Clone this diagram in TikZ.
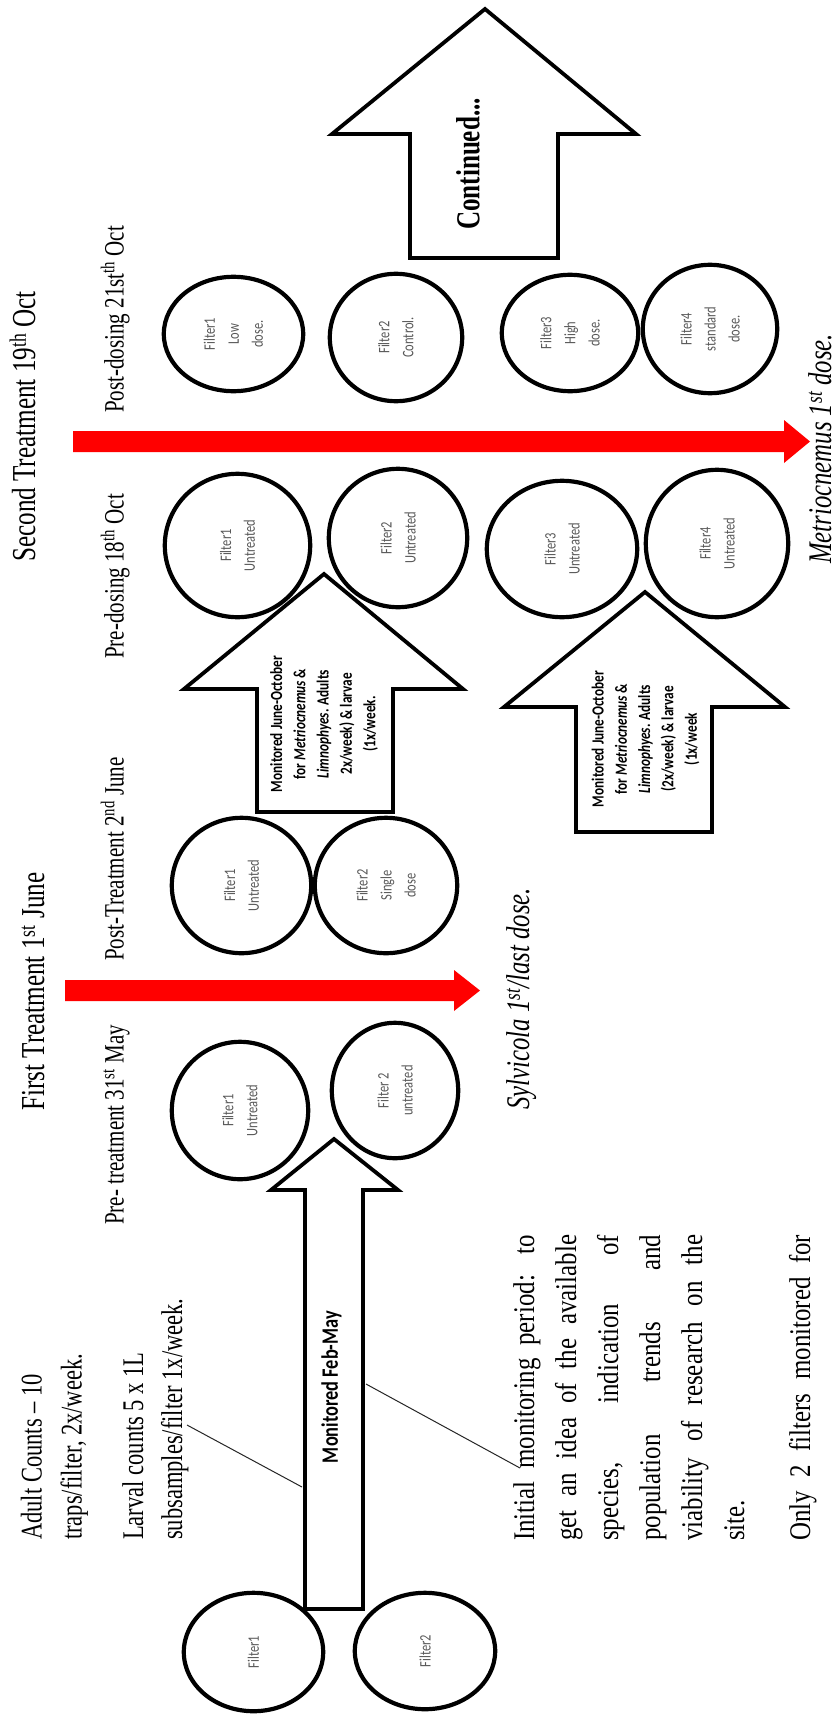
\documentclass[tikz,border=0pt]{standalone}
\usepackage{fontspec}
\setmainfont{Liberation Serif}[FakeStretch=0.75]
\newfontfamily\parafont{Liberation Serif}[FakeStretch=0.83]
\newfontfamily\calib{Carlito}[FakeStretch=0.78]
\usetikzlibrary{shapes.geometric}
\definecolor{dosered}{RGB}{255,0,0}
\definecolor{labgray}{RGB}{89,89,89}

\begin{document}
\begin{tikzpicture}[x=1pt,y=-1pt,
  hd/.style={rotate=90,anchor=base west,inner sep=0pt,font=\fontsize{33.5}{40}\selectfont},
  sub/.style={rotate=90,anchor=base west,inner sep=0pt,font=\fontsize{28}{34}\selectfont},
  body/.style={rotate=90,anchor=base west,inner sep=0pt,font=\fontsize{30}{42}\selectfont},
  para/.style={rotate=90,anchor=base west,inner sep=0pt,font=\parafont\fontsize{30}{42}\selectfont},
  species/.style={rotate=90,anchor=base west,inner sep=0pt,font=\itshape\fontsize{33}{40}\selectfont},
  filt/.style={ellipse,draw,line width=4.2pt,rotate=90,inner sep=0pt,align=center,
    text=labgray,font=\calib\fontsize{16}{24}\selectfont},
  blockarrow/.style={draw,fill=white,line width=3.8pt,line join=miter},
  arrowtext/.style={rotate=90,align=center,inner sep=0pt,
    font=\calib\bfseries\fontsize{17}{23.3}\selectfont},
  dosearrow/.style={fill=dosered},
  leader/.style={line width=1pt,black!85}
]
\path[use as bounding box,fill=white] (0,0) rectangle (835,1718);

% ---- block arrows (monitoring periods) ----
\draw[blockarrow] (305,1609) -- (305,1190) -- (271,1190) -- (334,1139)
  -- (398,1190) -- (363,1190) -- (363,1609) -- cycle;
\draw[blockarrow] (257,812) -- (257,689) -- (184,689) -- (324,574)
  -- (463,689) -- (393,689) -- (393,812) -- cycle;
\draw[blockarrow] (576,832) -- (576,707) -- (504,707) -- (645,592)
  -- (785,707) -- (712,707) -- (712,832) -- cycle;
\draw[blockarrow] (410,258) -- (410,134) -- (332,134) -- (485,9)
  -- (636,134) -- (558,134) -- (558,258) -- cycle;

\node[arrowtext,font=\calib\bfseries\fontsize{23.5}{28}\selectfont] (febmay) at (331.5,1387) {Monitored Feb-May};
\node[arrowtext] (junoct1) at (324,724) {Monitored June-October\\for \textit{Metriocnemus} \&\\\textit{Limnophyes}. Adults\\2x/week) \& larvae\\(1x/week.};
\node[arrowtext] (junoct2) at (645.5,739) {Monitored June-October\\for \textit{Metriocnemus} \&\\\textit{Limnophyes}. Adults\\(2x/week) \& larvae\\(1x/week};
\node[rotate=90,inner sep=0pt,font=\bfseries\fontsize{33.5}{40}\selectfont] (cont) at (468,164) {Continued...};

% ---- filters ----
\node[filt,minimum width=118.4pt,minimum height=139.4pt] (bF1) at (253.5,1652) {Filter1};
\node[filt,minimum width=116.4pt,minimum height=140.4pt] (bF2) at (425,1651) {Filter2};
\node[filt,minimum width=137.4pt,minimum height=136.4pt] (pF1) at (240,1110.5) {Filter1\\Untreated};
\node[filt,minimum width=135.4pt,minimum height=126.4pt] (pF2) at (395,1090.5) {Filter 2\\untreated};
\node[filt,minimum width=135.4pt,minimum height=139.4pt] (qF1) at (241.5,885.5) {Filter1\\Untreated};
\node[filt,minimum width=135.4pt,minimum height=142.4pt] (qF2) at (386,885.5) {Filter2\\Single\\dose};
\node[filt,minimum width=143.4pt,minimum height=145.4pt] (rF1) at (237.5,545.5) {Filter1\\Untreated};
\node[filt,minimum width=138.4pt,minimum height=138.4pt] (rF2) at (398,538) {Filter2\\Untreated};
\node[filt,minimum width=136.4pt,minimum height=150.4pt] (rF3) at (562,549) {Filter3\\Untreated};
\node[filt,minimum width=147.4pt,minimum height=142.4pt] (rF4) at (717,543.5) {Filter4\\Untreated};
\node[filt,minimum width=114.4pt,minimum height=139.4pt] (sF1) at (233.5,334) {Filter1\\Low\\dose.};
\node[filt,minimum width=127.4pt,minimum height=132.4pt] (sF2) at (396,337.5) {Filter2\\Control.};
\node[filt,minimum width=116.4pt,minimum height=136.4pt] (sF3) at (570,333) {Filter3\\High\\dose.};
\node[filt,minimum width=128.4pt,minimum height=134.4pt] (sF4) at (710,329) {Filter4\\standard\\dose.};

% ---- treatment arrows ----
\fill[dosearrow] (65,980) -- (454,980) -- (454,970) -- (480,990.5) -- (454,1011)
  -- (454,1001) -- (65,1001) -- cycle;
\fill[dosearrow] (73,431) -- (784,431) -- (784,420) -- (810,441.5) -- (784,463)
  -- (784,452) -- (73,452) -- cycle;

% ---- headings ----
\node[hd] (second) at (35,562) {Second Treatment 19\textsuperscript{th} Oct};
\node[hd] (first) at (44,1111) {First Treatment 1\textsuperscript{st} June};
\node[sub] (preT) at (123.5,1225) {Pre- treatment 31\textsuperscript{st} May};
\node[sub] (postT) at (123.5,961) {Post-Treatment 2\textsuperscript{nd} June};
\node[sub] (preD) at (123.5,659) {Pre-dosing 18\textsuperscript{th} Oct};
\node[sub] (postD) at (123.5,413) {Post-dosing 21st\textsuperscript{th} Oct};

\node[species] (sylv) at (529,1110) {Sylvicola 1\textsuperscript{st}/last dose.};
\node[species] (metrio) at (831,564) {Metriocnemus 1\textsuperscript{st} dose.};

% ---- notes ----
\node[body] (adult1) at (41.5,1540) {Adult Counts -- 10};
\node[body] (adult2) at (81.5,1540) {traps/filter, 2x/week.};
\node[body] (larval1) at (143,1540) {Larval counts 5 x 1L};
\node[body] (larval2) at (182,1540) {subsamples/filter 1x/week.};

\node[para] (init1) at (534,1541) {\makebox[306pt][s]{Initial monitoring period: to}};
\node[para] (init2) at (576,1541) {\makebox[306pt][s]{get an idea of the available}};
\node[para] (init3) at (618,1541) {\makebox[306pt][s]{species, indication of}};
\node[para] (init4) at (660,1541) {\makebox[306pt][s]{population trends and}};
\node[para] (init5) at (702,1541) {\makebox[306pt][s]{viability of research on the}};
\node[para] (init6) at (744,1541) {site.};
\node[para] (only) at (810,1541) {\makebox[306pt][s]{Only 2 filters monitored for}};

% ---- leader lines ----
\coordinate (l1a) at (187,1425);
\coordinate (l1b) at (302,1487);
\coordinate (l2a) at (366,1384);
\coordinate (l2b) at (520,1468);
\draw[leader] (l1a) -- (l1b);
\draw[leader] (l2a) -- (l2b);
\end{tikzpicture}
\end{document}
